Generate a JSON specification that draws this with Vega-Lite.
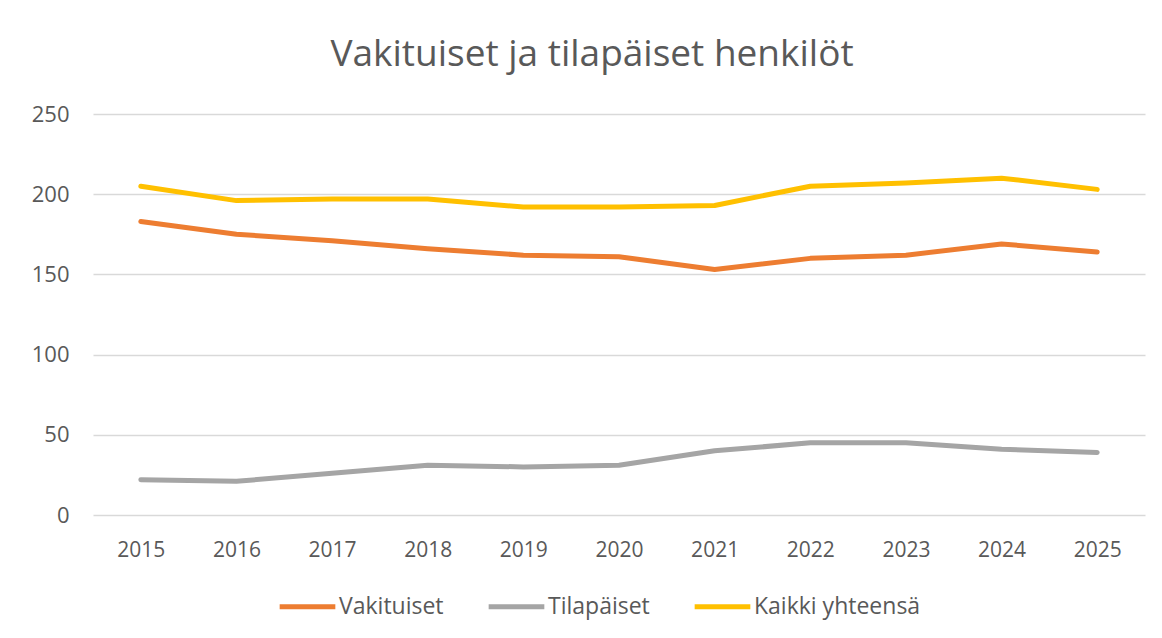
{
  "$schema": "https://vega.github.io/schema/vega-lite/v6.json",
  "autosize": "none",
  "width": 1052,
  "height": 401,
  "padding": {"left": 93, "top": 114, "right": 17, "bottom": 123},
  "background": "white",
  "title": {
    "text": "Vakituiset ja tilapäiset henkilöt",
    "anchor": "middle",
    "fontSize": 37,
    "font": "Open Sans",
    "fontWeight": "normal",
    "color": "#595959",
    "offset": 29,
    "dx": -27
  },
  "config": {
    "view": {"stroke": null},
    "font": "Open Sans"
  },
  "data": {
    "values": [
      {"year": "2015", "series": "Vakituiset", "value": 183},
      {"year": "2016", "series": "Vakituiset", "value": 175},
      {"year": "2017", "series": "Vakituiset", "value": 171},
      {"year": "2018", "series": "Vakituiset", "value": 166},
      {"year": "2019", "series": "Vakituiset", "value": 162},
      {"year": "2020", "series": "Vakituiset", "value": 161},
      {"year": "2021", "series": "Vakituiset", "value": 153},
      {"year": "2022", "series": "Vakituiset", "value": 160},
      {"year": "2023", "series": "Vakituiset", "value": 162},
      {"year": "2024", "series": "Vakituiset", "value": 169},
      {"year": "2025", "series": "Vakituiset", "value": 164},
      {"year": "2015", "series": "Tilapäiset", "value": 22},
      {"year": "2016", "series": "Tilapäiset", "value": 21},
      {"year": "2017", "series": "Tilapäiset", "value": 26},
      {"year": "2018", "series": "Tilapäiset", "value": 31},
      {"year": "2019", "series": "Tilapäiset", "value": 30},
      {"year": "2020", "series": "Tilapäiset", "value": 31},
      {"year": "2021", "series": "Tilapäiset", "value": 40},
      {"year": "2022", "series": "Tilapäiset", "value": 45},
      {"year": "2023", "series": "Tilapäiset", "value": 45},
      {"year": "2024", "series": "Tilapäiset", "value": 41},
      {"year": "2025", "series": "Tilapäiset", "value": 39},
      {"year": "2015", "series": "Kaikki yhteensä", "value": 205},
      {"year": "2016", "series": "Kaikki yhteensä", "value": 196},
      {"year": "2017", "series": "Kaikki yhteensä", "value": 197},
      {"year": "2018", "series": "Kaikki yhteensä", "value": 197},
      {"year": "2019", "series": "Kaikki yhteensä", "value": 192},
      {"year": "2020", "series": "Kaikki yhteensä", "value": 192},
      {"year": "2021", "series": "Kaikki yhteensä", "value": 193},
      {"year": "2022", "series": "Kaikki yhteensä", "value": 205},
      {"year": "2023", "series": "Kaikki yhteensä", "value": 207},
      {"year": "2024", "series": "Kaikki yhteensä", "value": 210},
      {"year": "2025", "series": "Kaikki yhteensä", "value": 203}
    ]
  },
  "mark": {"type": "line", "strokeWidth": 5, "strokeCap": "round", "strokeJoin": "round"},
  "encoding": {
    "x": {
      "field": "year",
      "type": "ordinal",
      "scale": {"type": "point", "padding": 0.5},
      "axis": {
        "title": null,
        "labelAngle": 0,
        "labelFontSize": 21,
        "labelColor": "#595959",
        "labelPadding": 24,
        "ticks": false,
        "domain": false,
        "grid": false
      }
    },
    "y": {
      "field": "value",
      "type": "quantitative",
      "scale": {"domain": [0, 250]},
      "axis": {
        "title": null,
        "values": [0, 50, 100, 150, 200, 250],
        "labelFontSize": 22,
        "labelColor": "#595959",
        "labelPadding": 24,
        "ticks": false,
        "domain": false,
        "gridColor": "#d9d9d9",
        "gridWidth": 1.3
      }
    },
    "color": {
      "field": "series",
      "type": "nominal",
      "scale": {
        "domain": ["Vakituiset", "Tilapäiset", "Kaikki yhteensä"],
        "range": ["#ED7D31", "#A5A5A5", "#FFC000"]
      },
      "legend": {
        "title": null,
        "orient": "none",
        "legendX": 184,
        "legendY": 462,
        "direction": "horizontal",
        "symbolType": "stroke",
        "symbolStrokeWidth": 5,
        "symbolSize": 3100,
        "labelOffset": 1,
        "labelLimit": 400,
        "labelFontSize": 23,
        "labelColor": "#595959",
        "columnPadding": 34
      }
    }
  }
}
